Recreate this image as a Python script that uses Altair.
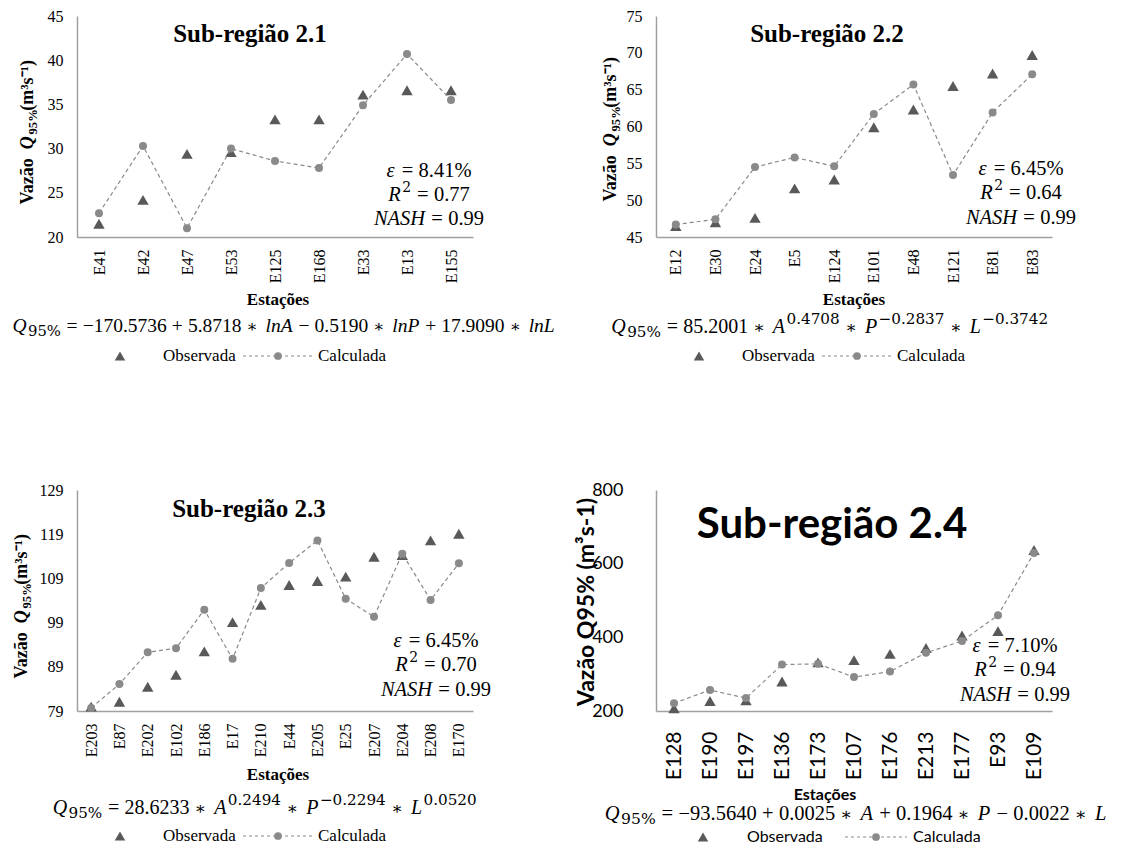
import altair as alt
import pandas as pd

# ---------------- data ----------------
ST1 = ["E41", "E42", "E47", "E53", "E125", "E168", "E33", "E13", "E155"]
OBS1 = [21.5, 24.2, 29.4, 29.6, 33.3, 33.3, 36.1, 36.6, 36.6]
CAL1 = [22.7, 30.3, 21.0, 30.0, 28.6, 27.8, 34.9, 40.7, 35.5]

ST2 = ["E12", "E30", "E24", "E5", "E124", "E101", "E48", "E121", "E81", "E83"]
OBS2 = [46.5, 47.0, 47.6, 51.6, 52.8, 59.9, 62.3, 65.5, 67.2, 69.7]
CAL2 = [46.7, 47.4, 54.5, 55.8, 54.6, 61.7, 65.7, 53.4, 61.9, 67.1]

ST3 = ["E203", "E87", "E202", "E102", "E186", "E17", "E210", "E44", "E205",
       "E25", "E207", "E204", "E208", "E170"]
OBS3 = [80.0, 81.1, 84.5, 87.2, 92.5, 99.1, 103.0, 107.5, 108.4, 109.4,
        113.9, 114.3, 117.6, 119.1]
CAL3 = [79.7, 85.1, 92.3, 93.2, 101.9, 90.8, 106.8, 112.5, 117.6, 104.4,
        100.3, 114.6, 104.1, 112.4]

ST4 = ["E128", "E190", "E197", "E136", "E173", "E107", "E176", "E213",
       "E177", "E93", "E109"]
OBS4 = [207, 227, 229, 280, 332, 338, 355, 371, 405, 417, 637]
CAL4 = [221, 257, 235, 326, 328, 292, 307, 358, 390, 460, 629]

Y1_TICKS = [20, 25, 30, 35, 40, 45]
Y2_TICKS = [45, 50, 55, 60, 65, 70, 75]
Y3_TICKS = [79, 89, 99, 109, 119, 129]
Y4_TICKS = [200, 400, 600, 800]

TITLES = ["Sub-região 2.1", "Sub-região 2.2", "Sub-região 2.3", "Sub-região 2.4"]
EPS = ["8.41%", "6.45%", "6.45%", "7.10%"]
R2 = ["0.77", "0.64", "0.70", "0.94"]
NASH = ["0.99", "0.99", "0.99", "0.99"]
XTITLE = "Estações"
SERIES = ["Observada", "Calculada"]

EQ1 = [("Q", "i"), ("95%", "sub"), ("=", "op"), ("−170.5736", "n"), ("+", "op"),
       ("5.8718", "n"), ("∗", "op"), ("lnA", "i"), ("−", "op"), ("0.5190", "n"),
       ("∗", "op"), ("lnP", "i"), ("+", "op"), ("17.9090", "n"), ("∗", "op"),
       ("lnL", "i")]
EQ2 = [("Q", "i"), ("95%", "sub"), ("=", "op"), ("85.2001", "n"), ("∗", "op"),
       ("A", "i"), ("0.4708", "sup"), ("∗", "op"), ("P", "i"), ("−0.2837", "sup"),
       ("∗", "op"), ("L", "i"), ("−0.3742", "sup")]
EQ3 = [("Q", "i"), ("95%", "sub"), ("=", "op"), ("28.6233", "n"), ("∗", "op"),
       ("A", "i"), ("0.2494", "sup"), ("∗", "op"), ("P", "i"), ("−0.2294", "sup"),
       ("∗", "op"), ("L", "i"), ("0.0520", "sup")]
EQ4 = [("Q", "i"), ("95%", "sub"), ("=", "op"), ("−93.5640", "n"), ("+", "op"),
       ("0.0025", "n"), ("∗", "op"), ("A", "i"), ("+", "op"), ("0.1964", "n"),
       ("∗", "op"), ("P", "i"), ("−", "op"), ("0.0022", "n"), ("∗", "op"),
       ("L", "i")]

YTITLE_RICH = [("Vazão ", "n"), ("Q", "i"), ("95%", "sub"), (" (m³s⁻¹)", "n")]
YTITLE_PLAIN = "Vazão Q95% (m³s-1)"

# ---------------- style ----------------
SERIF = "Liberation Serif"
SANS = "Lato"
MSCRIPT = "DejaVu Serif"
OPFONT = "DejaVu Serif"
TRI_C = "#595959"
CAL_C = "#8a8a8a"
AX_C = "#a0a0a0"
W, H = 396, 221

TIMES = {c: 0.5 for c in "0123456789"}
TIMES.update({".": 0.25, " ": 0.25, "=": 0.564, "+": 0.564, "−": 0.564, "∗": 0.838,
              "%": 0.833, "Q": 0.722, "A": 0.611, "P": 0.611, "L": 0.556,
              "l": 0.278, "n": 0.5, "N": 0.667, "S": 0.5, "H": 0.722, "R": 0.611,
              "ε": 0.44, "V": 0.722, "a": 0.5, "z": 0.444, "ã": 0.5, "o": 0.5,
              "(": 0.333, ")": 0.333, "m": 0.833, "s": 0.389, "-": 0.333,
              "³": 0.3, "¹": 0.3, "⁻": 0.4})
DEJAVU = {c: 0.636 for c in "0123456789"}
DEJAVU.update({".": 0.318, "−": 0.838, "%": 0.95, "-": 0.361})

ONE = pd.DataFrame({"k": [0]})


def tw(s, size, table):
    return sum(table.get(c, 0.5) for c in s) * size


def txt(s, x, y, size, font=SERIF, weight="normal", style="normal",
        align="left", baseline="alphabetic", angle=0, color="black"):
    kw = dict(text=s, font=font, fontSize=size, fontWeight=weight,
              fontStyle=style, align=align, baseline=baseline, color=color)
    if angle:
        kw["angle"] = angle
    return alt.Chart(ONE).mark_text(**kw).encode(x=alt.value(x), y=alt.value(y))


def layout(pieces, size, gap=0.26, script_font=MSCRIPT, script_table=DEJAVU,
           script_scale=0.76, bold=False):
    out, cur = [], 0.0
    w8 = "bold" if bold else "normal"
    for text, k in pieces:
        if k == "op":
            cur += gap * size
            if text == "∗":
                out.append((text, cur, 0.0, size * 0.85, OPFONT, "normal", w8))
                cur += 0.838 * size * 0.85 + gap * size
            else:
                out.append((text, cur, 0.0, size, SERIF, "normal", w8))
                cur += tw(text, size, TIMES) + gap * size
        elif k in ("sub", "sup"):
            fs = size * script_scale
            perp = 0.2 * size if k == "sub" else -0.42 * size
            cur += 0.03 * size
            out.append((text, cur, perp, fs, script_font, "normal", w8))
            cur += tw(text, fs, script_table) + 0.03 * size
        elif k == "i":
            out.append((text, cur, 0.0, size, SERIF, "italic", w8))
            cur += tw(text, size, TIMES) * (1.05 if bold else 1.0) + 0.04 * size
        else:
            out.append((text, cur, 0.0, size, SERIF, "normal", w8))
            cur += tw(text, size, TIMES) * (1.05 if bold else 1.0)
    return out, cur


def rich_h(pieces, cx, cy, size, **kw):
    items, total = layout(pieces, size, **kw)
    x0 = cx - total / 2
    base = cy + 0.33 * size
    return [txt(t, x0 + a, base + p, fs, font=f, style=st, weight=w)
            for t, a, p, fs, f, st, w in items]


def rich_v(pieces, cx, cy, size, **kw):
    items, total = layout(pieces, size, **kw)
    y0 = cy + total / 2
    base = cx + 0.33 * size
    return [txt(t, base + p, y0 - a, fs, font=f, style=st, weight=w, angle=270)
            for t, a, p, fs, f, st, w in items]


def legend(y, xs, font, size):
    tri_x, obs_x, d1, d2, circ_x, cal_x = xs
    return [
        alt.Chart(ONE).mark_point(shape="triangle-up", filled=True, size=110,
                                  color=TRI_C, opacity=1)
        .encode(x=alt.value(tri_x), y=alt.value(y)),
        txt(SERIES[0], obs_x, y, size, font=font, baseline="middle"),
        alt.Chart(ONE).mark_rule(strokeDash=[3, 3], color=CAL_C, strokeWidth=1.2)
        .encode(x=alt.value(d1), x2=alt.value(d2), y=alt.value(y)),
        alt.Chart(ONE).mark_point(shape="circle", filled=True, size=60,
                                  color=CAL_C, opacity=1)
        .encode(x=alt.value(circ_x), y=alt.value(y)),
        txt(SERIES[1], cal_x, y, size, font=font, baseline="middle"),
    ]


def panel(i, st, obs, cal, ticks, eq, cfg):
    df_o = pd.DataFrame({"Estação": st, "Vazão": obs})
    df_c = pd.DataFrame({"Estação": st, "Vazão": cal})
    lf = cfg["font"]
    x = alt.X("Estação:N", sort=st, title=None,
              axis=alt.Axis(labelAngle=270, labelFont=lf, labelFontSize=cfg["xls"],
                            labelPadding=cfg["xlp"], labelColor="black",
                            domainColor=AX_C, domainWidth=1.5, ticks=False,
                            grid=False, labelOverlap=False))
    y = alt.Y("Vazão:Q", title=None,
              scale=alt.Scale(domain=[ticks[0], ticks[-1]], nice=False, zero=False),
              axis=alt.Axis(values=ticks, labelFont=lf, labelFontSize=cfg["yls"],
                            labelPadding=cfg["ylp"], labelColor="black",
                            domainColor=AX_C, domainWidth=1.5, ticks=False,
                            grid=False))
    tri = alt.Chart(df_o).mark_point(shape="triangle-up", filled=True, size=130,
                                     color=TRI_C, opacity=1).encode(x=x, y=y)
    line = alt.Chart(df_c).mark_line(strokeDash=[4, 3], color=CAL_C,
                                     strokeWidth=1.2).encode(x=x, y=y)
    circ = alt.Chart(df_c).mark_point(shape="circle", filled=True, size=64,
                                      color=CAL_C, opacity=1).encode(x=x, y=y)
    layers = [tri, line, circ]

    tx, ty = cfg["title"]
    layers.append(txt(TITLES[i], tx, ty, cfg["tsize"], font=cfg["tfont"],
                      weight="bold", align="center", baseline="middle"))
    ax, ays = cfg["stats"]
    asz = 20.5
    layers += rich_h([("ε", "i"), ("=", "op"), (EPS[i], "n")], ax, ays[0], asz)
    layers += rich_h([("R", "i"), ("2", "sup"), ("=", "op"), (R2[i], "n")],
                     ax, ays[1], asz, script_scale=0.68)
    layers += rich_h([("NASH", "i"), ("=", "op"), (NASH[i], "n")], ax, ays[2], asz)
    yx, yy = cfg["ytitle"]
    if cfg["font"] == SERIF:
        layers += rich_v(YTITLE_RICH, yx, yy, 18, script_font=SERIF,
                         script_table=TIMES, script_scale=0.7, bold=True)
    else:
        layers.append(txt(YTITLE_PLAIN, yx, yy, 23, font=SANS, weight="bold",
                          align="center", baseline="middle", angle=270))
    ex, ey = cfg["xtitle"]
    layers.append(txt(XTITLE, ex, ey, cfg["xts"], font=cfg["font"], weight="bold",
                      align="center", baseline="middle"))
    qx, qy = cfg["eq"]
    layers += rich_h(eq, qx, qy, cfg.get("eqs", 20))
    layers += legend(cfg["leg_y"], cfg["leg_x"], cfg["font"], cfg["legs"])
    if cfg.get("anchor"):
        layers.append(alt.Chart(ONE).mark_rule(opacity=0).encode(
            x=alt.value(-69), y=alt.value(-7), y2=alt.value(-6)))
    return alt.layer(*layers).properties(width=W, height=H)


LEG_SERIF = (43, 86, 166, 236, 201, 241)
base_serif = dict(font=SERIF, tfont=SERIF, tsize=25, xls=16, xlp=12, yls=16,
                  ylp=14, xts=17, legs=17)

c1 = dict(base_serif, title=(173, 18), stats=(352, (154, 178, 202)),
          ytitle=(-50, 112), xtitle=(201, 284), eq=(207, 310), eqs=19.5,
          leg_y=340, leg_x=LEG_SERIF, anchor=True)
c2 = dict(base_serif, title=(171, 18), stats=(365, (152, 176, 201)),
          ytitle=(-46, 109), xtitle=(198, 284), eq=(174, 310), leg_y=340,
          leg_x=LEG_SERIF)
c3 = dict(base_serif, title=(172, 19), stats=(359, (150, 174, 199)),
          ytitle=(-56, 112), xtitle=(201, 285), eq=(188, 317), leg_y=346,
          leg_x=LEG_SERIF)
c4 = dict(font=SANS, tfont=SANS, tsize=42, xls=21, xlp=20, yls=18, ylp=33,
          xts=16, legs=16, title=(176, 35), stats=(359, (155, 179, 204)),
          ytitle=(-69, 112), xtitle=(169, 305), eq=(200, 323), eqs=20.5,
          leg_y=347, leg_x=(47, 91, 189, 251, 220, 257))

p1 = panel(0, ST1, OBS1, CAL1, Y1_TICKS, EQ1, c1)
p2 = panel(1, ST2, OBS2, CAL2, Y2_TICKS, EQ2, c2)
p3 = panel(2, ST3, OBS3, CAL3, Y3_TICKS, EQ3, c3)
p4 = panel(3, ST4, OBS4, CAL4, Y4_TICKS, EQ4, c4)

chart = alt.concat(p1, p2, p3, p4, columns=2, spacing={"row": 253, "column": 183},
                   bounds="flush").properties(padding=0).configure_view(stroke=None)

chart.save("out.html", embed_options={"renderer": "svg", "actions": False})
